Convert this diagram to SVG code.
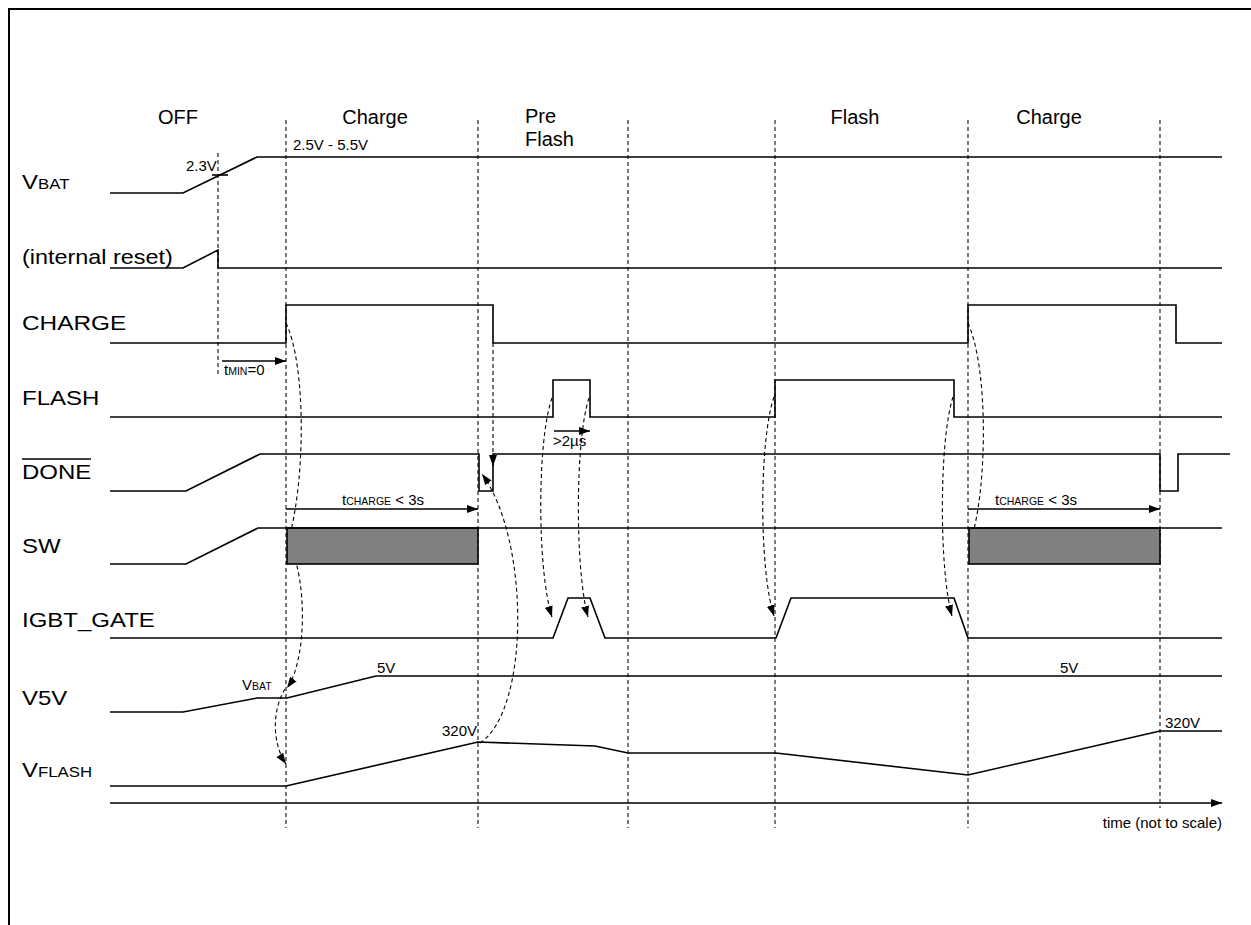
<svg xmlns="http://www.w3.org/2000/svg" width="1251" height="925" viewBox="0 0 1251 925">
<style>
text{font-family:"Liberation Sans",Arial,sans-serif;fill:#000}
.lbl{font-size:20px}
.ph{font-size:20px}
.sm{font-size:15px}
.sub{font-size:14px}
.ssub{font-size:10.5px}
.w{fill:none;stroke:#000;stroke-width:1.6}
.ph-line{fill:none;stroke:#333;stroke-width:1.3;stroke-dasharray:4,3}
.cause{fill:none;stroke:#000;stroke-width:1.1;stroke-dasharray:4,3}
.arr{fill:none;stroke:#000;stroke-width:1.3}
.box{fill:#808080;stroke:#000;stroke-width:1.6}
</style>
<defs>
<marker id="ah" markerUnits="userSpaceOnUse" markerWidth="12" markerHeight="8" refX="11" refY="4" orient="auto">
<path d="M0,0 L11,4 L0,8 z" fill="#000"/>
</marker>
</defs>
<rect width="1251" height="925" fill="#fff"/>
<g id="frame" fill="none" stroke="#000" stroke-width="2">
<path d="M9,925 V9 H1251"/>
</g>
<g id="phases">
<text class="ph" x="178" y="124" text-anchor="middle">OFF</text>
<text class="ph" x="375" y="124" text-anchor="middle">Charge</text>
<text class="ph" x="525" y="123">Pre</text>
<text class="ph" x="525" y="146">Flash</text>
<text class="ph" x="855" y="124" text-anchor="middle">Flash</text>
<text class="ph" x="1049" y="124" text-anchor="middle">Charge</text>
</g>
<g id="connectors">
<path class="ph-line" d="M218,153 V375"/>
<path class="ph-line" d="M286,120 V828"/>
<path class="ph-line" d="M478,120 V828"/>
<path class="ph-line" d="M628,120 V828"/>
<path class="ph-line" d="M775,120 V828"/>
<path class="ph-line" d="M968,120 V828"/>
<path class="ph-line" d="M1160,120 V808"/>
<path class="cause" d="M286,323 C306,365 306,480 288,542" marker-end="url(#ah)"/>
<path class="cause" d="M290,546 C307,580 307,660 287,688" marker-end="url(#ah)"/>
<path class="cause" d="M285,689 C271,712 273,745 286,764" marker-end="url(#ah)"/>
<path class="cause" d="M493,343 V466" marker-end="url(#ah)"/>
<path class="cause" d="M480,743 C530,710 530,540 482,474" marker-end="url(#ah)"/>
<path class="cause" d="M552,398 C537,440 537,570 552,617" marker-end="url(#ah)"/>
<path class="cause" d="M589,398 C575,440 575,570 588,617" marker-end="url(#ah)"/>
<path class="cause" d="M774,397 C759,440 759,570 774,616" marker-end="url(#ah)"/>
<path class="cause" d="M953,397 C939,440 939,570 952,616" marker-end="url(#ah)"/>
<path class="cause" d="M968,323 C989,370 987,490 971,540" marker-end="url(#ah)"/>
<path class="arr" d="M222,361 H286" marker-end="url(#ah)"/>
<path class="arr" d="M554,431 H590" marker-end="url(#ah)"/>
<path class="arr" d="M286,509 H478" marker-end="url(#ah)"/>
<path class="arr" d="M968,509 H1160" marker-end="url(#ah)"/>
<path class="arr" d="M110,803 H1222" marker-end="url(#ah)"/>
</g>
<g id="vbat">
<text class="lbl" transform="translate(22,189) scale(1.2,1)">V<tspan class="sub">BAT</tspan></text>
<path class="w" d="M110,193 H183 L257,157 H1222"/>
<path class="w" d="M212,175 H228"/>
<text class="sm" x="186" y="171">2.3V</text>
<text class="sm" x="293" y="150">2.5V - 5.5V</text>
</g>
<g id="reset">
<text class="lbl" transform="translate(22,264) scale(1.17,1)">(internal reset)</text>
<path class="w" d="M110,268 H183 L218,250 V268 H1222"/>
</g>
<g id="charge">
<text class="lbl" transform="translate(22,330) scale(1.22,1)">CHARGE</text>
<path class="w" d="M110,343 H286 V305 H493 V343 H968 V305 H1176 V343 H1222"/>
<text class="sm" x="224" y="375">t<tspan class="ssub">MIN</tspan>=0</text>
</g>
<g id="flash">
<text class="lbl" transform="translate(22,405) scale(1.2,1)">FLASH</text>
<path class="w" d="M110,417 H553 V380 H590 V417 H775 V380 H954 V417 H1222"/>
<text class="sm" x="553" y="446">&gt;2µs</text>
</g>
<g id="done">
<text class="lbl" transform="translate(22,479) scale(1.2,1)">DONE</text>
<path d="M22,459 H91" stroke="#000" stroke-width="1.5"/>
<path class="w" d="M110,491 H186 L260,454 H479 V491 H493 V454 H1160 V491 H1178 V454 H1230"/>
<text class="sm" x="342" y="505">t<tspan class="ssub">CHARGE</tspan> &lt; 3s</text>
<text class="sm" x="995" y="505">t<tspan class="ssub">CHARGE</tspan> &lt; 3s</text>
</g>
<g id="sw">
<text class="lbl" transform="translate(22,553) scale(1.2,1)">SW</text>
<rect class="box" x="287" y="528" width="191" height="36"/>
<rect class="box" x="969" y="528" width="191" height="36"/>
<path class="w" d="M110,564 H186 L258,528 H1222"/>
</g>
<g id="igbt">
<text class="lbl" transform="translate(22,627) scale(1.2,1)">IGBT_GATE</text>
<path class="w" d="M110,638 H553 L568,598 H590 L605,638 H776 L791,598 H954 L968,638 H1222"/>
</g>
<g id="v5v">
<text class="lbl" transform="translate(22,705) scale(1.2,1)">V5V</text>
<path class="w" d="M110,712 H183 L257,698 H287 L376,676 H1222"/>
<text class="sm" x="242" y="690">V<tspan class="ssub">BAT</tspan></text>
<text class="sm" x="377" y="673">5V</text>
<text class="sm" x="1060" y="673">5V</text>
</g>
<g id="vflash">
<text class="lbl" transform="translate(22,777) scale(1.2,1)">V<tspan class="sub">FLASH</tspan></text>
<path class="w" d="M110,786 H286 L478,742 L595,746 L628,753 H776 L968,775 L1160,731 H1222"/>
<text class="sm" x="442" y="736">320V</text>
<text class="sm" x="1165" y="728">320V</text>
</g>
<g id="axis">
<text class="sm" x="1222" y="828" text-anchor="end">time (not to scale)</text>
</g>
</svg>
